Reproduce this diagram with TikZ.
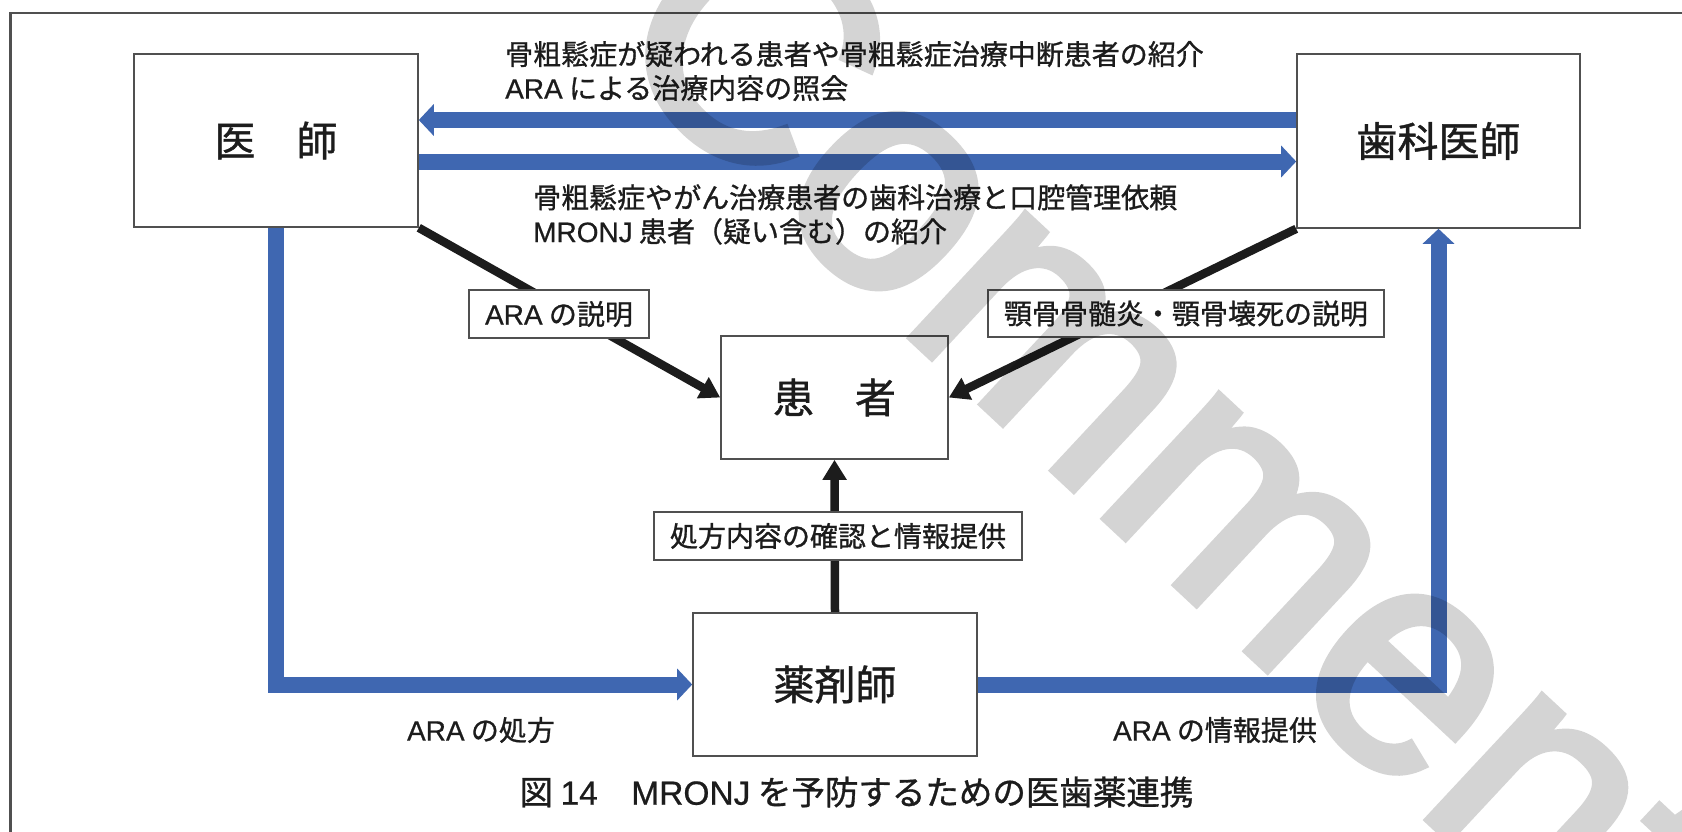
\documentclass[tikz,border=0pt]{standalone}
\usepackage{fontspec}
\setmainfont{Noto Sans CJK JP}[FakeBold=1.0]
\newfontfamily\lat{Liberation Sans}[FakeBold=0.6]
\newfontfamily\wmfont{Liberation Sans}[FakeBold=2.5]
\usetikzlibrary{arrows.meta,backgrounds}
\definecolor{ablue}{RGB}{63,103,177}
\definecolor{ink}{RGB}{28,28,28}
\definecolor{edgec}{RGB}{80,80,80}
\begin{document}
\begin{tikzpicture}[x=1pt,y=-1pt,
  bigbox/.style={draw=edgec, line width=1.6pt, fill=white, inner sep=0pt, text=ink, font=\fontsize{41}{41}\selectfont},
  lblbox/.style={draw=edgec, line width=1.6pt, fill=white, inner sep=0pt, text=ink, font=\fontsize{28}{28}\selectfont},
  plain/.style={inner sep=0pt, text=ink, font=\fontsize{28}{34}\selectfont},
  bluearrow/.style={draw=ablue, line width=16pt, line join=miter, -{Triangle[length=15pt,width=31pt]}},
  blackarrow/.style={draw=ink, line width=8.5pt, -{Triangle[length=20pt,width=23pt]}},
  watermark/.style={inner sep=0pt, text=black, font=\wmfont\fontsize{318}{318}\selectfont},
]
\useasboundingbox (0,0) rectangle (1682,831);

% main boxes
\node[bigbox, minimum width=284pt, minimum height=173pt] (ishi) at (276,140.5) {医　師};
\node[bigbox, minimum width=283pt, minimum height=174pt] (shika) at (1438.5,141) {歯科医師};
\node[bigbox, minimum width=227pt, minimum height=123pt] (kanja) at (834.5,397.5) {患　者};
\node[bigbox, minimum width=284pt, minimum height=143pt] (yaku) at (835,684.5) {薬剤師};

% label boxes
\node[lblbox, minimum width=180pt, minimum height=48pt] (l1) at (559,314) {{\lat ARA} の説明};
\node[lblbox, minimum width=396pt, minimum height=47pt] (l2) at (1186,313.5) {顎骨骨髄炎・顎骨壊死の説明};
\node[lblbox, minimum width=368pt, minimum height=48pt] (l3) at (838,536) {処方内容の確認と情報提供};

% free texts
\node[plain, anchor=west, align=left] (t1) at (505,71) {骨粗鬆症が疑われる患者や骨粗鬆症治療中断患者の紹介\\{\lat ARA} による治療内容の照会};
\node[plain, anchor=west, align=left] (t2) at (533,214.5) {骨粗鬆症やがん治療患者の歯科治療と口腔管理依頼\\{\lat MRONJ} 患者（疑い含む）の紹介};
\node[plain] (t3) at (481,730) {{\lat ARA} の処方};
\node[plain] (t4) at (1215,730) {{\lat ARA} の情報提供};
\node[inner sep=0pt, text=ink, font=\fontsize{33.5}{33.5}\selectfont] (cap) at (856.5,792) {図 {\lat 14}　{\lat MRONJ} を予防するための医歯薬連携};

% watermark on top, as one transparency group
\begin{scope}[transparency group, opacity=0.17]
  \node[watermark, rotate=-43] (wm) at (1235,490) {Comments};
\end{scope}

\coordinate (ytop) at (0,120);
\coordinate (ybot) at (0,161.5);

\begin{pgfonlayer}{background}
  \fill[white] (0,0) rectangle (1682,831);
  \draw[edgec, line width=2.5pt] (10.5,840) -- (10.5,13) -- (1690,13);
  \draw[bluearrow] (ytop -| shika.west) -- (ytop -| ishi.east);
  \draw[bluearrow] (ybot -| ishi.east) -- (ybot -| shika.west);
  \draw[bluearrow] (ishi.south) |- (yaku.west);
  \draw[bluearrow] (yaku.east) -| (shika.south);
  \draw[blackarrow] (ishi.south east) -- (kanja.west);
  \draw[blackarrow] (shika.south west) -- (kanja.east);
  \draw[blackarrow] (yaku.north) -- (kanja.south);
\end{pgfonlayer}
\end{tikzpicture}
\end{document}
